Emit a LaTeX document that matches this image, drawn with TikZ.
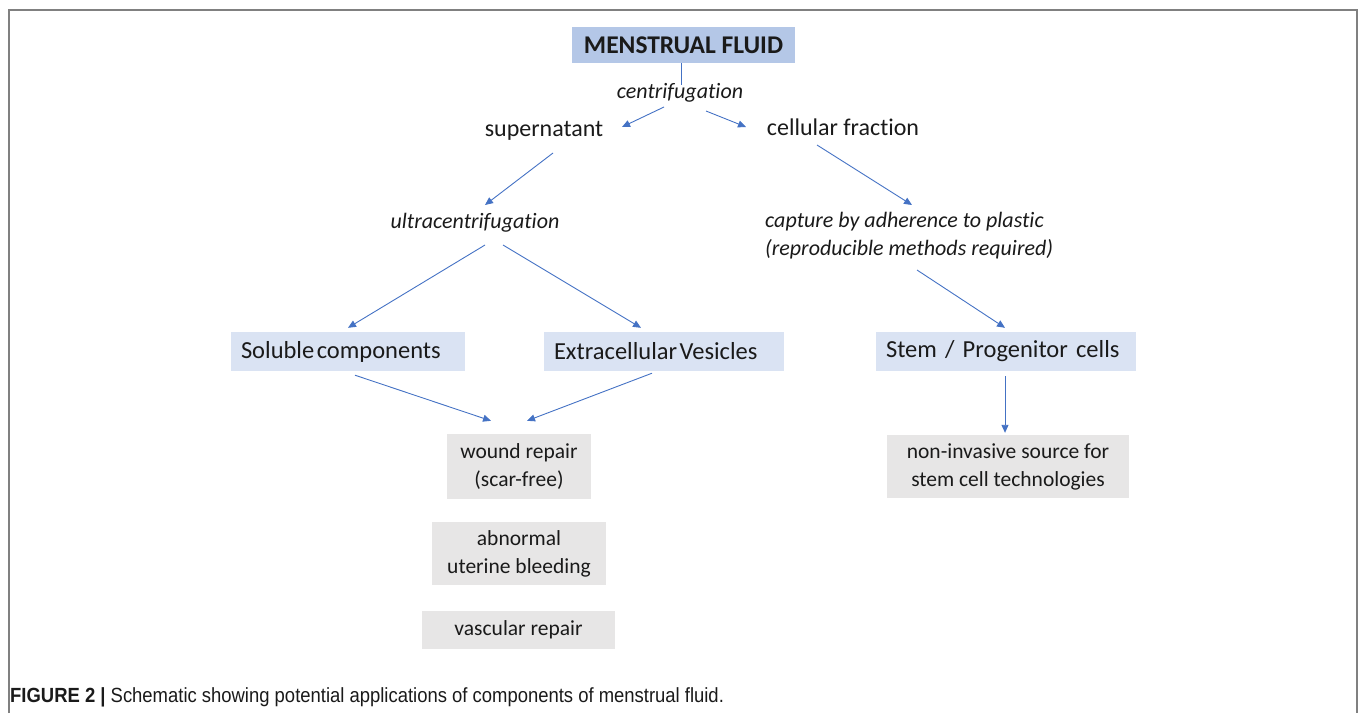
\documentclass[tikz,border=0pt]{standalone}
\usepackage{fontspec}
\setmainfont[Ligatures=NoCommon]{Carlito}
\newfontfamily\capfont[FakeStretch=0.9]{Liberation Sans}
\usetikzlibrary{arrows.meta,calc}
\definecolor{framegray}{HTML}{808080}
\definecolor{midblue}{HTML}{B4C7E7}
\definecolor{lightblue}{HTML}{DAE3F3}
\definecolor{lightgray}{HTML}{E7E6E6}
\definecolor{arrowblue}{HTML}{4472C4}
\definecolor{txt}{HTML}{1A1A1A}
\tikzset{
  conn/.style={draw=arrowblue, line width=0.9pt},
  arr/.style={conn, -{Triangle[length=8pt,width=7pt]}},
  plain/.style={text=txt, inner sep=0pt, font=\fontsize{24}{28}\selectfont},
  ital/.style={text=txt, inner sep=0pt, font=\fontsize{22}{28}\selectfont\itshape},
  bluebox/.style={fill=lightblue, text=txt, minimum height=39pt, inner xsep=10pt, inner ysep=0pt, align=left, font=\fontsize{24.5}{28}\selectfont},
  graybox/.style={fill=lightgray, text=txt, inner sep=0pt, align=center, font=\fontsize{21.5}{28}\selectfont},
}
\begin{document}
\begin{tikzpicture}[x=1pt,y=-1pt]
\useasboundingbox (0,0) rectangle (1360,713);
\draw[framegray, line width=2pt] (9,713) -- (9,10) -- (1357,10) -- (1357,713);

\node[fill=midblue, text=txt, minimum width=223pt, minimum height=36pt, inner sep=0pt, font=\fontsize{25.5}{28}\selectfont\bfseries] (mf) at (683.5,45) {MENSTRUAL FLUID};
\node[ital] (cent) at (680,93) {centrifugation};
\node[plain] (sup) at (544,131) {supernatant};
\node[plain] (cell) at (843,127) {cellular fraction};
\node[ital] (ultra) at (475,223) {ultracentrifugation};
\node[ital, anchor=west, align=left, font=\fontsize{22}{28}\selectfont\itshape] (capt) at (765,236) {capture by adherence to plastic\\(reproducible methods required)};

\node[bluebox, text width=214pt] (sol) at (348,351.5) {Soluble\hspace{2.5pt}components};
\node[bluebox, text width=220pt] (ev) at (664,351.5) {Extracellular\hspace{2.5pt}Vesicles};
\node[bluebox, text width=240pt] (stem) at (1006,351.5) {Stem / Progenitor cells};

\node[graybox, minimum width=144pt, minimum height=65pt] (wound) at (519,466.5) {wound repair\\(scar-free)};
\node[graybox, minimum width=242pt, minimum height=63pt] (noninv) at (1008,466.5) {non-invasive source for\\stem cell technologies};
\node[graybox, minimum width=174pt, minimum height=63pt] (abn) at (519,553.5) {abnormal\\uterine bleeding};
\node[graybox, minimum width=193pt, minimum height=38pt] (vasc) at (518.5,630) {vascular repair};

\node[anchor=west, inner sep=0pt, text=txt, font=\capfont\fontsize{20.5}{24}\selectfont] (caption) at (10,697) {\textbf{FIGURE 2 |} Schematic showing potential applications of components of menstrual fluid.};

\draw[conn] ([shift={(-2,0)}]mf.south) -- ([shift={(-2,22)}]mf.south);
\draw[arr] ([shift={(-16,14)}]cent.center) -- ([shift={(78,-4)}]sup.center);
\draw[arr] ([shift={(26,18)}]cent.center) -- ([shift={(-97,0)}]cell.center);
\draw[arr] ([shift={(9,22)}]sup.center) -- ([shift={(10,-18)}]ultra.center);
\draw[arr] ([shift={(-26,18)}]cell.center) -- ([shift={(147,-31)}]capt.west);
\draw[arr] ([shift={(10,22)}]ultra.center) -- ([shift={(0,-4)}]sol.north);
\draw[arr] ([shift={(28,22)}]ultra.center) -- ([shift={(-23,-4)}]ev.north);
\draw[arr] ([shift={(152,34)}]capt.west) -- ([shift={(-1,-4)}]stem.north);
\draw[arr] ([shift={(7,4)}]sol.south) -- ([shift={(-28,-13)}]wound.north);
\draw[arr] ([shift={(-12,2)}]ev.south) -- ([shift={(8,-13)}]wound.north);
\draw[arr] ([shift={(-1,5)}]stem.south) -- ([shift={(-3,-2)}]noninv.north);
\end{tikzpicture}
\end{document}
